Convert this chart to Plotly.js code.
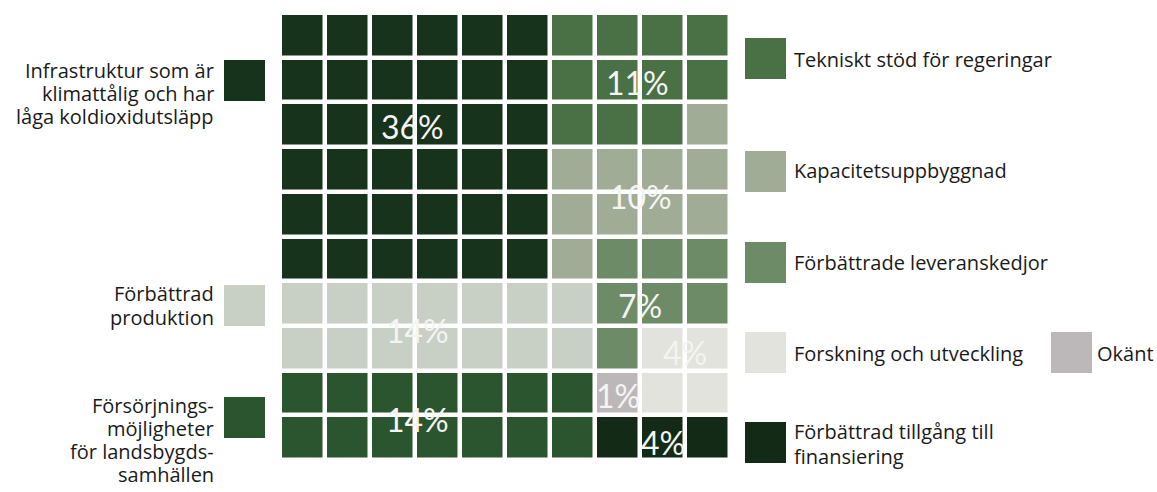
<!DOCTYPE html>
<html>
<head>
<meta charset="utf-8">
<script src="https://cdn.plot.ly/plotly-3.0.1.min.js"></script>
<style>html,body{margin:0;padding:0;background:#fff;}#chart{width:1157px;height:492px;}</style>
</head>
<body>
<div id="chart"></div>
<script>
// ---- data ----
const categories = [
  "Infrastruktur som är<br>klimattålig och har<br>låga koldioxidutsläpp",
  "Tekniskt stöd för regeringar",
  "Kapacitetsuppbyggnad",
  "Förbättrade leveranskedjor",
  "Förbättrad<br>produktion",
  "Forskning och utveckling",
  "Okänt",
  "Försörjnings-<br>möjligheter<br>för landsbygds-<br>samhällen",
  "Förbättrad tillgång till<br>finansiering"
];
const percentLabels = ["36%", "11%", "10%", "7%", "14%", "4%", "1%", "14%", "4%"];
const colors = ["#17331b", "#4a7045", "#a1ac96", "#6e8b67", "#c8cfc4", "#e1e3dc", "#bcb8ba", "#2b552f", "#132a16"];
// category index of each cell, row by row from the top
const cellGrid = [
  [0,0,0,0,0,0,1,1,1,1],
  [0,0,0,0,0,0,1,1,1,1],
  [0,0,0,0,0,0,1,1,1,2],
  [0,0,0,0,0,0,2,2,2,2],
  [0,0,0,0,0,0,2,2,2,2],
  [0,0,0,0,0,0,2,3,3,3],
  [4,4,4,4,4,4,4,3,3,3],
  [4,4,4,4,4,4,4,3,5,5],
  [7,7,7,7,7,7,7,6,5,5],
  [7,7,7,7,7,7,7,8,8,8]
];
const columns = [0,1,2,3,4,5,6,7,8,9];
const rows = [0,1,2,3,4,5,6,7,8,9];

// ---- layout helpers ----
const M = {l: 280, r: 427, t: 13, b: 32};
const PW = 1157 - M.l - M.r, PH = 492 - M.t - M.b;
const px = v => (v - M.l) / PW;
const py = v => 1 - (v - M.t) / PH;

// percent label anchor (in cell units)
const labelAnchor = [[2.45,2.05],[7.45,1.05],[7.5,3.6],[7.5,6.05],[2.55,6.6],[8.5,7.1],[7.0,8.05],[2.55,8.6],[8.0,9.1]];

const n = colors.length;
const colorscale = colors.map((c, i) => [i / (n - 1), c]);

const trace = {
  type: "heatmap",
  x: columns, y: rows, z: cellGrid,
  colorscale: colorscale, zmin: 0, zmax: n - 1,
  showscale: false, xgap: 4.5, ygap: 4.5,
  hoverinfo: "skip"
};

const annotations = [];
const shapes = [];
const font = {family: "'Open Sans', sans-serif", size: 20, color: "#1a1a1a"};

percentLabels.forEach((t, i) => {
  annotations.push({x: labelAnchor[i][0], y: labelAnchor[i][1], xref: "x", yref: "y",
    text: t, showarrow: false, xanchor: "center", yanchor: "middle",
    font: {family: "Lato, sans-serif", size: 32, color: "#f4f4f2"}});
});

// legend swatch placement (pixels): [x0, y0, side of text, text x, first line y, line spacing]
const legendPlace = {
  0: [224, 60, "left", 216, 70, 23],
  4: [224, 285, "left", 216, 293, 24],
  7: [224, 397, "left", 216, 405, 23],
  1: [745, 38, "right", 792, 59, 0],
  2: [745, 151, "right", 792, 170, 0],
  3: [745, 242, "right", 792, 262, 0],
  5: [745, 332, "right", 792, 353, 0],
  6: [1051, 332, "right", 1095, 353, 0],
  8: [745, 422, "right", 792, 431, 25]
};
Object.keys(legendPlace).forEach(k => {
  const i = +k, p = legendPlace[k];
  shapes.push({type: "rect", xref: "paper", yref: "paper",
    x0: px(p[0]), x1: px(p[0] + 41), y0: py(p[1]), y1: py(p[1] + 41),
    fillcolor: colors[i], line: {width: 0}});
  categories[i].split("<br>").forEach((line, j) => {
    annotations.push({xref: "paper", yref: "paper", x: px(p[3]), y: py(p[4] + j * p[5]),
      text: line, showarrow: false,
      xanchor: p[2] === "left" ? "right" : "left", yanchor: "middle",
      align: p[2] === "left" ? "right" : "left", font: font});
  });
});

const axisStyle = {showgrid: false, zeroline: false, showticklabels: false, ticks: "", showline: false, fixedrange: true};
const layout = {
  width: 1157, height: 492,
  margin: M,
  paper_bgcolor: "#fff", plot_bgcolor: "#fff",
  xaxis: Object.assign({range: [-0.5, 9.5]}, axisStyle),
  yaxis: Object.assign({range: [9.5, -0.5]}, axisStyle),
  shapes: shapes, annotations: annotations, showlegend: false
};

Plotly.newPlot("chart", [trace], layout, {staticPlot: true, displayModeBar: false});
</script>
</body>
</html>
